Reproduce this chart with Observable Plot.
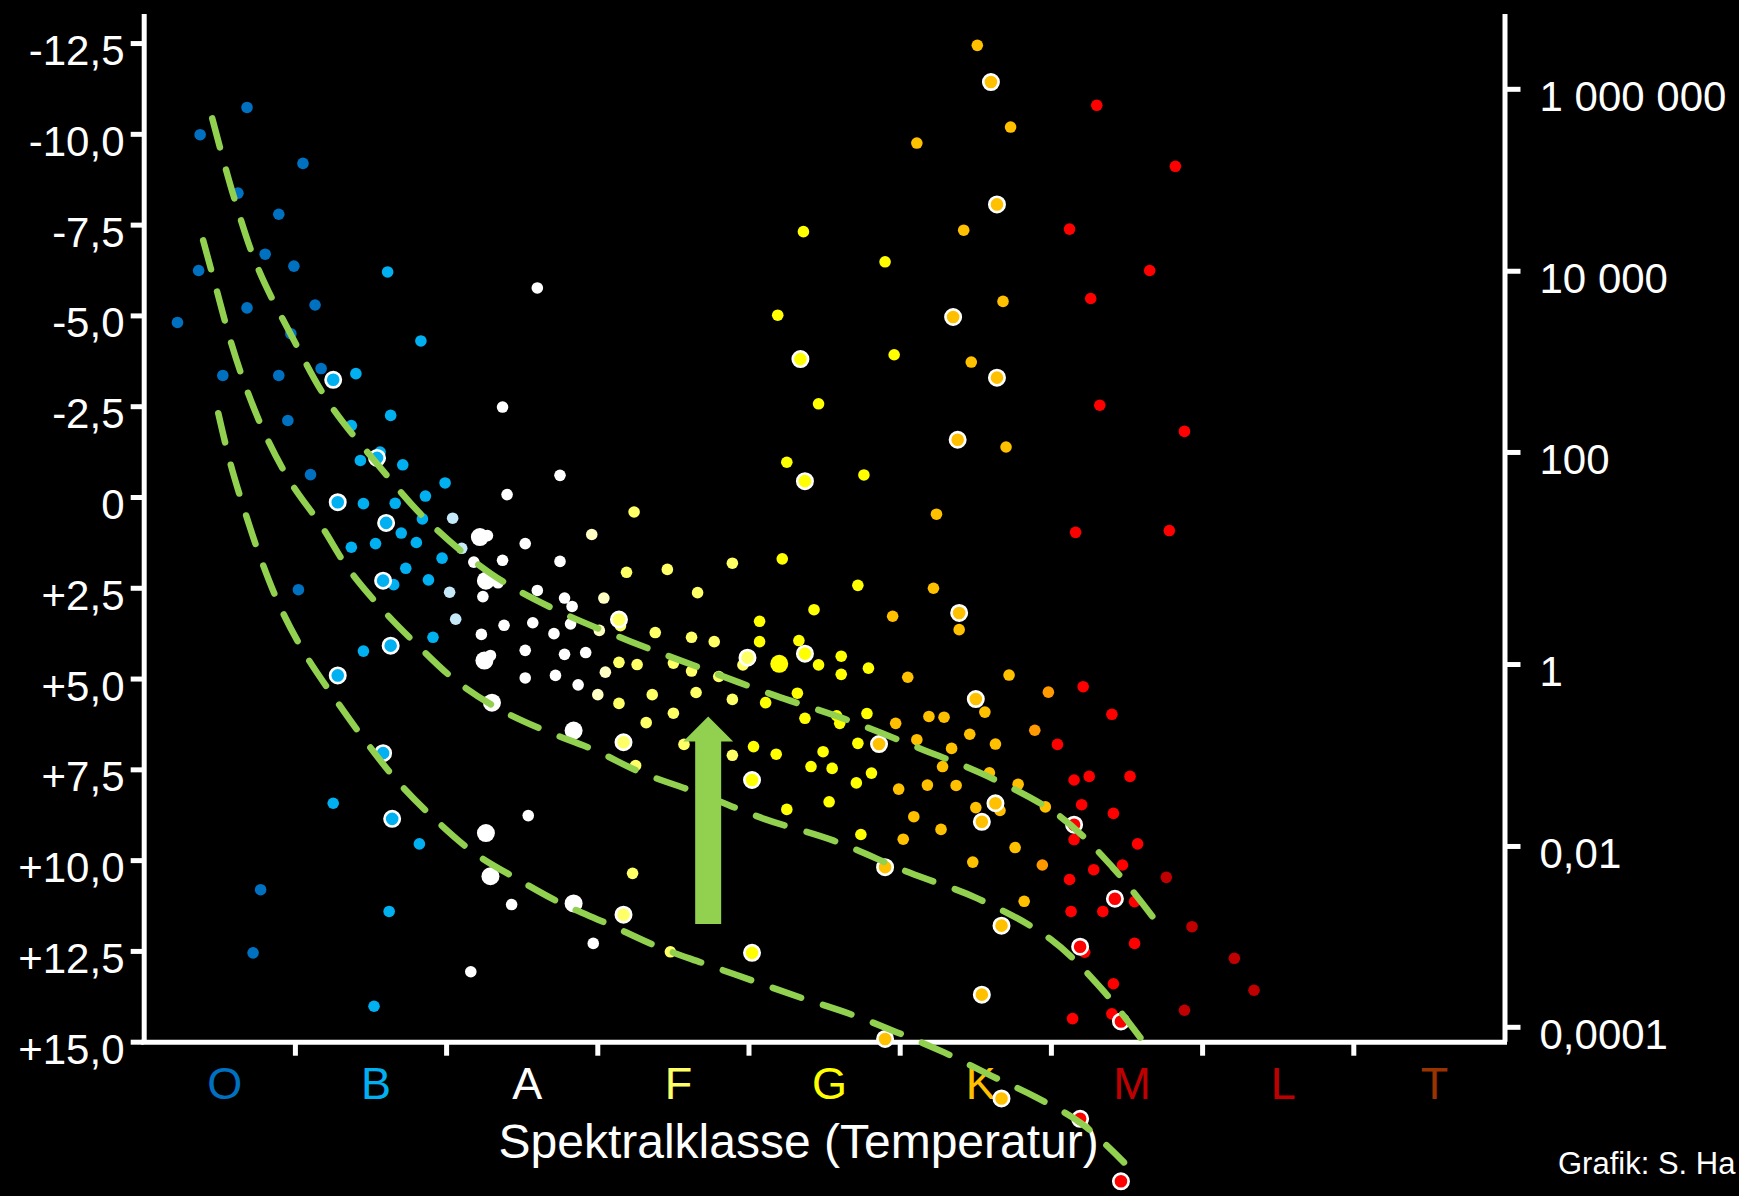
<!DOCTYPE html>
<html><head><meta charset="utf-8">
<script src="https://cdn.jsdelivr.net/npm/d3@7"></script>
<script src="https://cdn.jsdelivr.net/npm/@observablehq/plot@0.6"></script>
<style>
html,body{margin:0;padding:0;background:#000;overflow:hidden;width:1739px;height:1196px;}
#chart{position:absolute;left:0;top:0;}
#credit{position:absolute;left:1558px;top:1148px;font-family:"Liberation Sans",Arial,sans-serif;font-size:31px;line-height:31px;color:#fff;white-space:nowrap;}
</style></head><body>
<div id="chart"></div>
<div id="credit">Grafik: S. Ha</div>
<script>
// ---------- axes / labels ----------
const classes = ["O","B","A","F","G","K","M","L","T"];
const classColors = ["#0070C0","#00B0F0","#FFFFFF","#FFFF66","#FFFF00","#FFC000","#C00000","#C00000","#993300"];
const magTicks = [-12.5,-10,-7.5,-5,-2.5,0,2.5,5,7.5,10,12.5,15];
const magLabels = ["-12,5","-10,0","-7,5","-5,0","-2,5","0","+2,5","+5,0","+7,5","+10,0","+12,5","+15,0"];
const lumLabels = ["1 000 000","10 000","100","1","0,01","0,0001"];
const lumMags = [-11.24,-6.23,-1.24,4.60,9.61,14.59];
const xTitle = "Spektralklasse (Temperatur)";
const xDomain = [0, 9];
const yDomain = [15, -13.3];

// star colour per type
const starColors = {O:"#0070C0",B:"#00B0F0",Bp:"#C6E9FA",A:"#FFFFFF",Fp:"#FFFFC4",F:"#FFFF66",G:"#FFFF00",K:"#FFC000",Ko:"#FF9900",M:"#FF0000",Md:"#C00000"};

// ---------- stars: [spectral position, absolute magnitude, type] ----------
const starsO = [[0.68,-10.74,"O"],[0.37,-9.99,"O"],[1.05,-9.20,"O"],[0.62,-8.38,"O"],[0.89,-7.80,"O"],[0.80,-6.70,"O"],[0.99,-6.37,"O"],[0.36,-6.25,"O"],[0.68,-5.22,"O"],[1.13,-5.30,"O"],[0.22,-4.82,"O"],[0.97,-4.51,"O"],[0.52,-3.36,"O"],[0.89,-3.36,"O"],[1.17,-3.55,"O"],[0.95,-2.12,"O"],[1.10,-0.63,"O"],[1.02,2.54,"O"],[0.77,10.80,"O"],[0.72,12.54,"O"]];
const starsB = [[1.61,-6.21,"B"],[1.83,-4.31,"B"],[1.40,-3.41,"B"],[1.63,-2.26,"B"],[1.37,-1.98,"B"],[1.43,-1.02,"B"],[1.56,-1.25,"B"],[1.71,-0.90,"B"],[1.45,0.17,"B"],[1.66,0.16,"B"],[1.70,0.98,"B"],[1.80,1.24,"B"],[1.53,1.27,"B"],[1.37,1.37,"B"],[1.73,1.95,"B"],[1.65,2.40,"B"],[1.45,4.23,"B"],[1.99,-0.40,"B"],[1.86,-0.04,"B"],[1.84,0.59,"B"],[1.97,1.67,"B"],[1.88,2.27,"B"],[1.91,3.85,"B"],[1.25,8.42,"B"],[1.82,9.54,"B"],[1.62,11.40,"B"],[1.52,14.01,"B"],
  [2.04,0.57,"Bp"],[2.10,1.40,"Bp"],[2.02,2.61,"Bp"],[2.06,3.35,"Bp"]];
const starsA = [[2.60,-5.77,"A"],[2.37,-2.49,"A"],[2.75,-0.61,"A"],[2.40,-0.08,"A"],[2.27,1.05,"A"],[2.52,1.27,"A"],[2.37,1.73,"A"],[2.75,1.76,"A"],[2.18,1.78,"A"],[2.34,2.35,"A"],[2.60,2.56,"A"],[2.24,2.73,"A"],[2.78,2.77,"A"],[2.83,3.00,"A"],[2.82,3.48,"A"],[2.38,3.52,"A"],[2.57,3.45,"A"],[2.23,3.77,"A"],[2.71,3.75,"A"],[2.29,4.35,"A"],[2.52,4.21,"A"],[2.78,4.32,"A"],[2.92,4.27,"A"],[2.52,4.97,"A"],[2.72,4.90,"A"],[2.87,5.16,"A"],[2.54,8.76,"A"],[2.43,11.21,"A"],[2.97,12.28,"A"],[2.16,13.06,"A"]];
const starsF = [[2.96,1.02,"Fp"],[3.04,2.77,"Fp"],[3.01,3.66,"Fp"],[3.05,4.81,"Fp"],[3.00,5.43,"Fp"],
  [3.24,0.40,"F"],[3.19,2.06,"F"],[3.46,1.98,"F"],[3.89,1.81,"F"],[3.66,2.62,"F"],[3.15,3.53,"F"],[3.38,3.72,"F"],[3.62,3.85,"F"],[3.77,3.97,"F"],[3.96,4.61,"F"],[3.14,4.54,"F"],[3.26,4.60,"F"],[3.50,4.56,"F"],[3.62,4.78,"F"],[3.80,4.93,"F"],[3.89,5.56,"F"],[3.65,5.37,"F"],[3.36,5.43,"F"],[3.14,5.67,"F"],[3.50,5.94,"F"],[3.32,6.20,"F"],[3.57,6.80,"F"],[3.89,7.10,"F"],[3.25,7.38,"F"],[3.23,10.35,"F"],[3.48,12.51,"F"]];
const starsG = [[4.22,1.69,"G"],[4.43,3.09,"G"],[4.07,3.41,"G"],[4.07,3.97,"G"],[4.33,3.94,"G"],[4.46,4.61,"G"],[4.32,5.39,"G"],[4.11,5.65,"G"],[4.37,6.08,"G"],[4.03,6.86,"G"],[4.36,-7.32,"G"],[4.90,-6.49,"G"],[4.19,-5.02,"G"],[4.96,-3.93,"G"],[4.46,-2.58,"G"],[4.25,-0.97,"G"],[4.76,-0.62,"G"],[4.18,7.07,"G"],[4.72,2.42,"G"],[4.61,4.37,"G"],[4.61,4.87,"G"],[4.79,4.70,"G"],[4.58,6.01,"G"],[4.78,5.95,"G"],[4.60,6.22,"G"],[4.72,6.77,"G"],[4.49,7.00,"G"],[4.41,7.41,"G"],[4.55,7.46,"G"],[4.81,7.59,"G"],[4.71,7.86,"G"],[4.53,8.38,"G"],[4.74,9.28,"G"],[4.25,8.59,"G"]];
const starsK = [[5.51,-12.45,"K"],[5.73,-10.20,"K"],[5.11,-9.76,"K"],[5.42,-7.36,"K"],[5.68,-5.40,"K"],[5.47,-3.73,"K"],[5.70,-1.39,"K"],[5.24,0.46,"K"],[5.22,2.50,"K"],[4.95,3.27,"K"],[5.39,3.64,"K"],[5.05,4.95,"K"],[5.72,4.89,"K"],[5.56,5.91,"K"],[5.19,6.03,"K"],[5.29,6.05,"K"],[4.97,6.22,"K"],[5.46,6.52,"K"],[5.63,6.79,"K"],[5.11,6.67,"K"],[5.34,6.91,"K"],[4.99,8.03,"K"],[5.18,7.92,"K"],[5.37,7.93,"K"],[5.28,7.41,"K"],[5.59,7.58,"K"],[5.78,7.90,"K"],[5.66,8.62,"K"],[5.50,8.54,"K"],[5.09,8.79,"K"],[5.27,9.14,"K"],[5.02,9.41,"K"],[5.96,8.52,"K"],[5.76,9.64,"K"],[5.48,10.04,"K"],[5.82,11.12,"K"],
  [5.98,5.36,"Ko"],[5.89,6.41,"Ko"],[5.94,10.12,"Ko"]];
const starsM = [[6.30,-10.80,"M"],[6.82,-9.12,"M"],[6.12,-7.39,"M"],[6.65,-6.25,"M"],[6.26,-5.48,"M"],[6.32,-2.54,"M"],[6.16,0.96,"M"],[6.78,0.91,"M"],[6.88,-1.82,"M"],[6.21,5.21,"M"],[6.40,5.97,"M"],[6.04,6.80,"M"],[6.15,7.78,"M"],[6.25,7.68,"M"],[6.52,7.68,"M"],[6.20,8.46,"M"],[6.41,8.70,"M"],[6.15,9.42,"M"],[6.57,9.54,"M"],[6.47,10.12,"M"],[6.28,10.25,"M"],[6.12,10.52,"M"],[6.55,11.13,"M"],[6.13,11.40,"M"],[6.34,11.40,"M"],[6.22,12.52,"M"],[6.55,12.28,"M"],[6.41,13.39,"M"],[6.14,14.35,"M"],[6.40,14.22,"M"],
  [6.76,10.46,"Md"],[6.93,11.82,"Md"],[7.21,12.69,"Md"],[7.34,13.57,"Md"],[6.88,14.12,"Md"]];
const largeStars = [[2.22,1.09,"A"],[2.26,2.29,"A"],[2.25,4.49,"A"],[2.30,5.65,"A"],[2.84,6.42,"A"],[2.26,9.24,"A"],[2.29,10.43,"A"],[2.84,11.18,"A"],[4.20,4.58,"G"]];
const ringedStars = [[1.25,-3.24,"B"],[1.54,-1.09,"B"],[1.28,0.13,"B"],[1.60,0.70,"B"],[1.58,2.29,"B"],[1.63,4.08,"B"],[1.28,4.90,"B"],[1.58,7.04,"B"],[1.64,8.85,"B"],
  [3.14,3.36,"F"],[3.99,4.41,"F"],[3.17,6.74,"F"],[3.17,11.49,"F"],
  [4.37,-0.45,"G"],[4.37,4.30,"G"],[4.34,-3.81,"G"],[4.02,7.78,"G"],[4.02,12.54,"G"],
  [5.60,-11.44,"K"],[5.64,-8.07,"K"],[5.35,-4.97,"K"],[5.64,-3.30,"K"],[5.38,-1.59,"K"],[5.39,3.18,"K"],[5.50,5.55,"K"],[4.86,6.79,"K"],[5.63,8.42,"K"],[5.54,8.93,"K"],[4.90,10.18,"K"],[5.67,11.79,"K"],[5.54,13.69,"K"],[4.90,14.91,"K"],[5.67,16.55,"K"],
  [6.15,9.01,"M"],[6.42,11.05,"M"],[6.19,12.37,"M"],[6.46,14.43,"M"],[6.19,17.11,"M"],[6.46,18.83,"M"]];

// ---------- dashed curves: [spectral position, magnitude] ----------
const curveUpper = [[0.45,-10.44],[0.59,-8.32],[0.75,-6.34],[0.99,-4.33],[1.22,-2.62],[1.56,-0.83],[1.87,0.63],[2.29,2.09],[2.72,3.09],[3.22,3.97],[3.67,4.68],[4.17,5.45],[4.64,6.11],[5.13,6.91],[5.58,7.68],[6.05,8.76],[6.40,10.16],[6.74,11.93]];
const curveMiddle = [[0.39,-7.08],[0.48,-5.70],[0.57,-4.33],[0.68,-2.95],[0.81,-1.65],[0.97,-0.41],[1.17,0.77],[1.35,1.96],[1.57,3.06],[1.81,4.08],[2.06,5.04],[2.34,5.81],[2.65,6.42],[2.97,6.94],[3.29,7.58],[3.68,8.16],[4.10,8.85],[4.56,9.45],[5.06,10.33],[5.51,11.04],[5.99,12.15],[6.33,13.52],[6.66,15.28]];
const curveLower = [[0.49,-2.32],[0.57,-0.94],[0.67,0.44],[0.78,1.79],[0.91,3.11],[1.07,4.35],[1.26,5.53],[1.46,6.69],[1.67,7.79],[1.91,8.81],[2.18,9.78],[2.46,10.49],[2.76,11.18],[3.06,11.73],[3.38,12.34],[3.70,12.83],[4.02,13.30],[4.34,13.77],[4.66,14.21],[4.98,14.73],[5.29,15.28],[5.60,15.92],[5.90,16.52],[6.20,17.24],[6.48,18.31]];

// ---------- arrow: position, tail and tip magnitudes ----------
const arrowData = [{cls: 3.73, tail: 11.76, tip: 6.03}];

// ---------- build tables ----------
const toStar = ([cls, mag, type]) => ({cls, mag, type});
const smallTable = [...starsO, ...starsB, ...starsA, ...starsF, ...starsG, ...starsK, ...starsM].map(toStar);
const largeTable = largeStars.map(toStar);
const ringedTable = ringedStars.map(toStar);
const curveTable = [
  ...curveUpper.map(([cls, mag]) => ({cls, mag, curve: "upper"})),
  ...curveMiddle.map(([cls, mag]) => ({cls, mag, curve: "middle"})),
  ...curveLower.map(([cls, mag]) => ({cls, mag, curve: "lower"}))
];
const classTable = classes.map((label, i) => ({label, pos: i + 0.5, color: classColors[i]}));
const magLabelOf = new Map(magTicks.map((t, i) => [t, magLabels[i]]));
const lumLabelOf = new Map(lumMags.map((t, i) => [t, lumLabels[i]]));
const classBounds = d3.range(1, classes.length);

const green = "#92D050";
const arrowHead = {draw(ctx) { ctx.moveTo(0, 0); ctx.lineTo(25, 25); ctx.lineTo(-25, 25); ctx.closePath(); }};
const starFill = d => starColors[d.type];

const chart = Plot.plot({
  width: 1739, height: 1196,
  marginLeft: 143.7, marginRight: 234.5, marginTop: 14, marginBottom: 154.3,
  x: {domain: xDomain},
  y: {domain: yDomain},
  color: {type: "identity"},
  style: {background: "#000", color: "#fff", fontFamily: "'Liberation Sans', Arial, sans-serif", fontSize: "42px"},
  marks: [
    Plot.ruleX(xDomain, {y1: yDomain[0], y2: yDomain[1], stroke: "#fff", strokeWidth: 5}),
    Plot.ruleY([yDomain[0]], {x1: xDomain[0], x2: xDomain[1], stroke: "#fff", strokeWidth: 5, strokeLinecap: "square"}),
    Plot.axisY(magTicks, {anchor: "left", tickSize: 13, strokeWidth: 5, tickFormat: () => "", label: null}),
    Plot.axisY(magTicks, {anchor: "left", tickSize: 0, tickPadding: 19.7, dy: 8, fontSize: 42, tickFormat: d => magLabelOf.get(d), label: null}),
    Plot.axisY(lumMags, {anchor: "right", tickSize: 15, strokeWidth: 5, tickFormat: () => "", label: null}),
    Plot.axisY(lumMags, {anchor: "right", tickSize: 0, tickPadding: 34.5, dy: 8, fontSize: 42, tickFormat: d => lumLabelOf.get(d), label: null}),
    Plot.axisX(classBounds, {anchor: "bottom", tickSize: 14, strokeWidth: 5, tickFormat: () => "", label: null}),
    Plot.text(classTable, {x: "pos", text: "label", fill: "color", frameAnchor: "bottom", lineAnchor: "bottom", dy: 57, dx: 5, fontSize: 45}),
    Plot.text([xTitle], {frameAnchor: "bottom", lineAnchor: "bottom", dy: 116, dx: -26, fontSize: 48, fill: "#fff"}),
    Plot.dot(smallTable, {x: "cls", y: "mag", r: 5.8, fill: starFill, stroke: "none"}),
    Plot.dot(largeTable, {x: "cls", y: "mag", r: 9, fill: starFill, stroke: "none"}),
    Plot.dot(ringedTable, {x: "cls", y: "mag", r: 7.65, fill: starFill, stroke: "#fff", strokeWidth: 2.7}),
    Plot.line(curveTable, {x: "cls", y: "mag", z: "curve", stroke: green, strokeWidth: 6.5, strokeDasharray: "30,23", curve: "catmull-rom"}),
    Plot.ruleX(arrowData, {x: "cls", y1: "tip", y2: "tail", insetTop: 25, stroke: green, strokeWidth: 26}),
    Plot.dot(arrowData, {x: "cls", y: "tip", symbol: arrowHead, fill: green, stroke: "none", r: 10})
  ]
});
document.getElementById("chart").appendChild(chart);
</script></body></html>
